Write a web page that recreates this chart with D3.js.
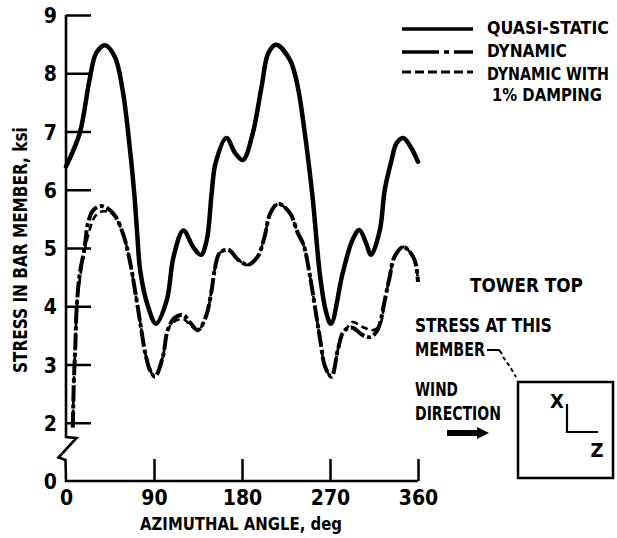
<!DOCTYPE html>
<html>
<head>
<meta charset="utf-8">
<script src="https://cdn.jsdelivr.net/npm/d3@7"></script>
<style>
  html, body { margin: 0; padding: 0; background: #fff; }
  svg { display: block; }
  text { font-family: "Liberation Sans Narrow", "DejaVu Sans Condensed", "Arial Narrow", sans-serif; font-weight: bold; fill: #000; }
</style>
</head>
<body>
<svg id="chart" width="617" height="538"></svg>
<script>
// ---------- data ----------
const xTicks = [0, 90, 180, 270, 360];
const yTicks = [1, 2, 3, 4, 5, 6, 7, 8, 9];           // position 1 is drawn as "0" (broken axis)
const yTickLabels = ["0", "2", "3", "4", "5", "6", "7", "8", "9"];

const quasiAngle = [0, 14, 24, 31, 40, 50, 58, 66, 70, 73, 76, 84, 92, 103, 110, 120, 130, 138, 144, 149, 153, 164, 173, 181, 191, 200, 207, 215, 229, 237, 244, 252, 260, 266, 271, 283, 293, 300, 307, 312, 321, 326, 333, 338, 345, 353, 360];
const quasiStress = [6.40, 6.97, 7.88, 8.35, 8.48, 8.28, 7.70, 6.60, 5.90, 5.20, 4.60, 3.99, 3.70, 4.10, 4.85, 5.30, 5.02, 4.88, 5.14, 5.95, 6.46, 6.89, 6.63, 6.51, 6.97, 7.77, 8.35, 8.49, 8.23, 7.77, 7.00, 5.90, 4.50, 3.90, 3.70, 4.57, 5.14, 5.31, 5.08, 4.88, 5.31, 6.00, 6.51, 6.80, 6.89, 6.72, 6.48];

const dynAngle = [7, 8, 9.5, 11, 14, 19, 22.5, 28, 36, 48, 58, 65, 70.5, 76, 81, 86, 91, 99, 104, 111, 120, 127, 135, 143, 149, 152, 157, 166, 176, 186, 196, 203, 209, 217, 229, 237, 243, 249, 254.5, 260, 265, 271.5, 278, 283, 288, 293, 304, 311, 317.5, 321, 326, 331, 336, 345, 355, 358, 360];
const dynStress = [1.92, 2.70, 3.30, 4.00, 4.55, 5.00, 5.43, 5.65, 5.72, 5.60, 5.26, 4.80, 4.28, 3.71, 3.20, 2.90, 2.79, 3.13, 3.59, 3.80, 3.85, 3.72, 3.59, 3.82, 4.28, 4.62, 4.91, 4.97, 4.80, 4.71, 4.85, 5.19, 5.60, 5.76, 5.60, 5.26, 5.05, 4.57, 4.00, 3.42, 2.96, 2.79, 3.25, 3.54, 3.62, 3.63, 3.50, 3.47, 3.56, 3.70, 4.10, 4.50, 4.85, 5.02, 4.85, 4.70, 4.42];

const dampAngle = [7, 8, 9.5, 11, 14, 19, 24, 30, 38, 48, 58, 65, 70.5, 76, 81, 86, 91, 99, 104, 111, 120, 127, 135, 143, 149, 152, 157, 166, 176, 186, 196, 203, 209, 217, 229, 237, 243, 249, 254.5, 260, 265, 271.5, 278, 283, 288, 293, 304, 314, 321, 326, 331, 336, 345, 355, 358, 360];
const dampStress = [1.92, 2.70, 3.30, 4.00, 4.45, 4.95, 5.30, 5.55, 5.63, 5.58, 5.26, 4.80, 4.28, 3.71, 3.20, 2.90, 2.79, 3.13, 3.59, 3.74, 3.78, 3.68, 3.59, 3.82, 4.28, 4.62, 4.91, 4.97, 4.80, 4.71, 4.85, 5.19, 5.60, 5.76, 5.60, 5.26, 5.05, 4.57, 4.00, 3.42, 2.96, 2.79, 3.25, 3.54, 3.64, 3.73, 3.64, 3.59, 3.68, 4.10, 4.50, 4.85, 5.02, 4.85, 4.70, 4.42];

const legendLabels = ["QUASI-STATIC", "DYNAMIC", "DYNAMIC WITH", "1% DAMPING"];
const xTitle = "AZIMUTHAL ANGLE, deg";
const yTitle = "STRESS IN BAR MEMBER, ksi";

// ---------- scales ----------
const svg = d3.select("#chart");
const x = d3.scaleLinear().domain([0, 360]).range([66, 418]);
const y = d3.scaleLinear().domain([1, 9]).range([481, 15]);

const zip = (a, b) => a.map((d, i) => [d, b[i]]);
const line = d3.line().x(d => x(d[0])).y(d => y(d[1])).curve(d3.curveCatmullRom.alpha(0.5));

// text squeezed horizontally (real glyph bbox stays inside target width)
function fitText(str, tx, ty, size, width, rotate) {
  const g = svg.append("g");
  const t = g.append("text").attr("font-size", size).text(str);
  const w = t.node().getComputedTextLength();
  const s = width / w;
  if (rotate) {
    g.attr("transform", `translate(${tx},${ty}) rotate(-90) scale(${s},1)`);
    t.attr("x", -w / 2);
  } else {
    g.attr("transform", `translate(${tx},${ty}) scale(${s},1)`);
  }
  return t;
}

// ---------- axes ----------
const yAxis = d3.axisLeft(y).tickValues(yTicks).tickSizeInner(-25).tickSizeOuter(0).tickPadding(10)
  .tickFormat((d, i) => yTickLabels[i]);
const gy = svg.append("g").attr("transform", "translate(66,0)").call(yAxis);
gy.select(".domain").remove();
gy.selectAll(".tick line").attr("stroke", "#000").attr("stroke-width", 2.5)
  .filter(d => d === 1).remove();
gy.selectAll(".tick text").attr("font-size", 21).attr("dy", "0.36em").attr("x", -9);

const xAxis = d3.axisBottom(x).tickValues(xTicks).tickSizeInner(-22).tickSizeOuter(0).tickPadding(8);
const gx = svg.append("g").attr("transform", "translate(0,481)").call(xAxis);
gx.select(".domain").remove();
gx.selectAll(".tick line").attr("stroke", "#000").attr("stroke-width", 2.5)
  .filter(d => d === 0).remove();
gx.selectAll(".tick text").attr("font-size", 21).attr("y", 9).attr("dy", "0.71em");

// broken y axis with zigzag + x axis line
svg.append("path")
  .attr("d", `M${x(0)},${y(9)} V437 L76.5,438 L58.5,457.5 L65.5,460 L${x(0)},${y(1)} H${x(360)}`)
  .attr("fill", "none").attr("stroke", "#000").attr("stroke-width", 2.6).attr("stroke-linejoin", "miter");

// axis titles
fitText(xTitle, 140, 530, 18, 202, false);
fitText(yTitle, 27, 250, 19, 246, true);

// ---------- curves ----------
svg.append("path").datum(zip(dampAngle, dampStress)).attr("d", line)
  .attr("fill", "none").attr("stroke", "#000").attr("stroke-width", 2.6).attr("stroke-dasharray", "7,4");
svg.append("path").datum(zip(dynAngle, dynStress)).attr("d", line)
  .attr("fill", "none").attr("stroke", "#000").attr("stroke-width", 4).attr("stroke-dasharray", "16,3,4,3");
svg.append("path").datum(zip(quasiAngle, quasiStress)).attr("d", line)
  .attr("fill", "none").attr("stroke", "#000").attr("stroke-width", 4.5).attr("stroke-linecap", "round");

// ---------- legend ----------
const legY = [29, 52, 72];
const legDash = [null, "37,5,5,5,40", "9,4"];
const legW = [3.6, 3.6, 3.2];
legY.forEach((yy, i) => {
  svg.append("line").attr("x1", 402).attr("x2", 473).attr("y1", yy).attr("y2", yy)
    .attr("stroke", "#000").attr("stroke-width", legW[i])
    .attr("stroke-dasharray", legDash[i]);
});
const legTextX = [487, 487, 487, 492];
const legTextY = [34, 57, 80, 101];
const legTextW = [122, 80, 122, 110];
legendLabels.forEach((t, i) => fitText(t, legTextX[i], legTextY[i], 18, legTextW[i], false));

// ---------- tower top diagram ----------
const notes = [
  ["TOWER TOP", 470, 292, 113],
  ["STRESS AT THIS", 415, 332, 137],
  ["MEMBER", 415, 356, 70],
  ["WIND", 415, 396, 43],
  ["DIRECTION", 415, 420, 86]
];
notes.forEach(([t, tx, ty, tw]) => fitText(t, tx, ty, 19, tw, false));
// leader
svg.append("path").attr("d", "M487,350 L499,350 L502,354").attr("fill", "none")
  .attr("stroke", "#000").attr("stroke-width", 2);
svg.append("path").attr("d", "M503,357 Q510,366 516,377").attr("fill", "none")
  .attr("stroke", "#000").attr("stroke-width", 2).attr("stroke-dasharray", "4,3");
// arrow
svg.append("path").attr("d", "M447,430 L477,430 L477,427 L489,433 L477,439 L477,436 L447,436 Z")
  .attr("fill", "#000");
// box
svg.append("rect").attr("x", 518).attr("y", 382).attr("width", 95).attr("height", 96)
  .attr("fill", "none").attr("stroke", "#000").attr("stroke-width", 2.5);
svg.append("path").attr("d", "M567,404 V432 H598").attr("fill", "none")
  .attr("stroke", "#000").attr("stroke-width", 2.2);
svg.append("text").attr("x", 557).attr("y", 408).attr("text-anchor", "middle").attr("font-size", 20).text("X");
svg.append("text").attr("x", 597).attr("y", 457).attr("text-anchor", "middle").attr("font-size", 20).text("Z");
</script>
</body>
</html>
